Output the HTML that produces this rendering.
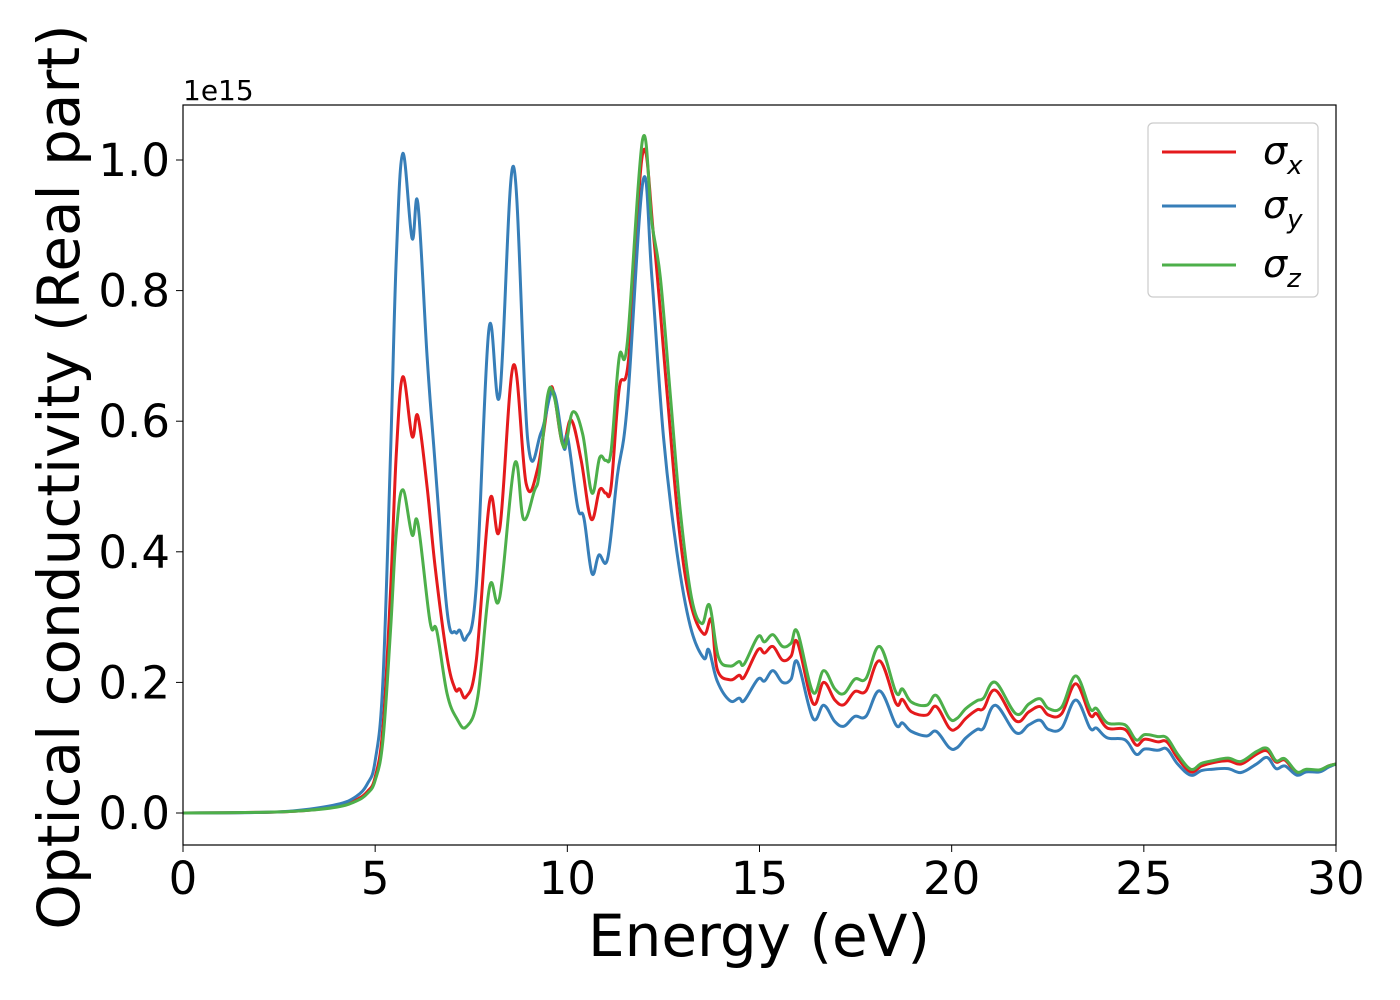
<!DOCTYPE html>
<html><head><meta charset="utf-8"><style>
html,body{margin:0;padding:0;background:#fff;}
svg{display:block;font-family:"DejaVu Sans","Liberation Sans",sans-serif;}
</style></head><body>
<svg id="chart" width="1400" height="1000" viewBox="0 0 1400 1000" xmlns="http://www.w3.org/2000/svg">
<rect width="1400" height="1000" fill="#fff"/>
<g id="xticks"></g>
<g id="yticks"></g>
<g id="series"></g>
<rect x="183" y="105" width="1153" height="740" fill="none" stroke="#000" stroke-width="1.2"/>
<text x="183" y="100" font-size="28">1e15</text>
<text x="759" y="956" font-size="58" text-anchor="middle">Energy (eV)</text>
<text transform="translate(79,477) rotate(-90)" font-size="58" text-anchor="middle">Optical conductivity (Real part)</text>
<g>
<rect x="1148" y="123" width="170" height="174" rx="5" fill="#fff" stroke="#ccc" stroke-width="1.2"/>
<line x1="1162" y1="152" x2="1236" y2="152" stroke="#e41a1c" stroke-width="3"/>
<text x="1263" y="164" font-size="38" font-style="italic">σ<tspan font-size="26" dy="10">x</tspan></text>
<line x1="1162" y1="206" x2="1236" y2="206" stroke="#377eb8" stroke-width="3"/>
<text x="1263" y="218" font-size="38" font-style="italic">σ<tspan font-size="26" dy="10">y</tspan></text>
<line x1="1162" y1="265" x2="1236" y2="265" stroke="#4daf4a" stroke-width="3"/>
<text x="1263" y="277" font-size="38" font-style="italic">σ<tspan font-size="26" dy="10">z</tspan></text>
</g>
</svg>
<script>
const xTicks=[0,5,10,15,20,25,30];
const yTicks=[0.0,0.2,0.4,0.6,0.8,1.0];
const yTickLabels=["0.0","0.2","0.4","0.6","0.8","1.0"];
const tailE=[14.23,14.47,14.6,14.96,15.13,15.35,15.6,15.82,15.99,16.39,16.67,16.96,17.2,17.48,17.77,18.13,18.55,18.72,18.95,19.35,19.6,19.94,20.14,20.37,20.66,20.83,21.14,21.67,22.01,22.3,22.52,22.86,23.23,23.6,23.77,24.05,24.51,24.8,25.02,25.36,25.6,25.88,26.22,26.5,26.79,27.19,27.53,27.93,28.21,28.44,28.67,28.98,29.23,29.57,29.8,30];
const redHeadE=[0,2,3,4,4.5,4.8,5.0,5.2,5.4,5.55,5.72,5.96,6.11,6.35,6.56,6.87,7.08,7.2,7.37,7.63,7.98,8.24,8.6,8.93,9.23,9.53,9.66,9.88,10.1,10.36,10.62,10.84,11.0,11.14,11.35,11.6,11.96,12.25,12.6,12.9,13.2,13.55,13.75,13.9];
const redHeadV=[0,0.001,0.003,0.01,0.02,0.033,0.055,0.13,0.34,0.55,0.668,0.577,0.608,0.5,0.377,0.239,0.19,0.19,0.178,0.233,0.478,0.435,0.686,0.504,0.528,0.64,0.64,0.565,0.602,0.54,0.45,0.495,0.49,0.5,0.65,0.698,1.01,0.88,0.64,0.44,0.323,0.274,0.296,0.22];
const redTail=[0.204,0.211,0.208,0.25,0.245,0.255,0.234,0.24,0.261,0.168,0.2,0.173,0.166,0.186,0.187,0.233,0.168,0.174,0.155,0.15,0.163,0.13,0.13,0.145,0.158,0.16,0.188,0.141,0.155,0.163,0.15,0.152,0.198,0.15,0.152,0.13,0.128,0.104,0.113,0.109,0.109,0.084,0.063,0.072,0.077,0.08,0.075,0.09,0.095,0.078,0.081,0.061,0.066,0.065,0.072,0.075];
const blueHeadE=[0,2,3,4,4.5,4.8,5.0,5.2,5.4,5.55,5.72,5.96,6.11,6.35,6.52,6.87,7.08,7.2,7.37,7.63,7.96,8.24,8.6,8.97,9.32,9.63,9.91,10.01,10.27,10.43,10.64,10.82,11.05,11.3,11.56,11.97,12.2,12.5,12.85,13.2,13.55,13.68,13.9];
const blueHeadV=[0,0.001,0.004,0.013,0.025,0.045,0.08,0.2,0.55,0.85,1.01,0.88,0.934,0.7,0.565,0.31,0.277,0.28,0.268,0.347,0.741,0.64,0.99,0.571,0.583,0.646,0.559,0.575,0.468,0.452,0.367,0.395,0.39,0.516,0.625,0.968,0.82,0.577,0.4,0.286,0.237,0.25,0.202];
const blueTail=[0.172,0.176,0.172,0.205,0.202,0.218,0.2,0.205,0.231,0.145,0.165,0.14,0.133,0.148,0.148,0.187,0.135,0.138,0.125,0.118,0.125,0.1,0.1,0.115,0.128,0.13,0.165,0.123,0.135,0.142,0.128,0.13,0.173,0.13,0.13,0.115,0.112,0.09,0.098,0.096,0.098,0.075,0.058,0.065,0.067,0.068,0.062,0.075,0.085,0.068,0.072,0.058,0.063,0.063,0.07,0.075];
const greenHeadE=[0,2,3,4,4.5,4.8,5.0,5.2,5.4,5.55,5.72,5.96,6.11,6.43,6.6,6.87,7.13,7.37,7.67,7.98,8.24,8.63,8.86,9.14,9.27,9.49,9.66,9.91,10.14,10.4,10.64,10.84,11.0,11.14,11.35,11.56,11.96,12.2,12.42,12.68,12.94,13.23,13.5,13.7,13.93];
const greenHeadV=[0,0.001,0.003,0.009,0.018,0.03,0.05,0.11,0.28,0.43,0.495,0.426,0.444,0.292,0.28,0.183,0.144,0.132,0.178,0.347,0.33,0.535,0.45,0.493,0.52,0.64,0.637,0.56,0.614,0.58,0.49,0.544,0.54,0.555,0.698,0.72,1.032,0.904,0.82,0.64,0.462,0.33,0.29,0.318,0.239];
const greenTail=[0.225,0.232,0.228,0.27,0.262,0.273,0.255,0.26,0.277,0.185,0.218,0.19,0.183,0.205,0.206,0.255,0.185,0.19,0.17,0.165,0.18,0.145,0.145,0.16,0.172,0.176,0.2,0.152,0.167,0.175,0.16,0.162,0.21,0.16,0.16,0.138,0.135,0.112,0.12,0.117,0.115,0.09,0.067,0.076,0.08,0.084,0.079,0.094,0.099,0.08,0.083,0.063,0.067,0.066,0.072,0.075];

const NS="http://www.w3.org/2000/svg";
function xs(e){return 183+(e-0)*(1336-183)/30;}
function ys(v){return 813-v*653;}
const xg=document.getElementById('xticks'),yg=document.getElementById('yticks'),sg=document.getElementById('series');
xTicks.forEach(t=>{
  const l=document.createElementNS(NS,'line');
  l.setAttribute('x1',xs(t));l.setAttribute('x2',xs(t));l.setAttribute('y1',845);l.setAttribute('y2',852);l.setAttribute('stroke','#000');
  
  
  xg.appendChild(l);
  const tx=document.createElementNS(NS,'text');
  tx.setAttribute('x',xs(t));tx.setAttribute('y',894);tx.setAttribute('font-size','45');tx.setAttribute('text-anchor','middle');
  tx.textContent=String(t);
  
  
  xg.appendChild(tx);
});
yTicks.forEach((t,i)=>{
  const l=document.createElementNS(NS,'line');
  l.setAttribute('x1',176);l.setAttribute('x2',183);l.setAttribute('y1',ys(t));l.setAttribute('y2',ys(t));l.setAttribute('stroke','#000');
  
  
  yg.appendChild(l);
  const tx=document.createElementNS(NS,'text');
  tx.setAttribute('x',170);tx.setAttribute('y',ys(t)+16);tx.setAttribute('font-size','45');tx.setAttribute('text-anchor','end');
  tx.textContent=yTickLabels[i];
  
  
  yg.appendChild(tx);
});
function pathFrom(E,V){
  const p=E.map((e,i)=>[xs(e),ys(V[i])]);
  let d='M'+p[0][0].toFixed(2)+','+p[0][1].toFixed(2);
  for(let i=0;i<p.length-1;i++){
    const p0=p[Math.max(0,i-1)],p1=p[i],p2=p[i+1],p3=p[Math.min(p.length-1,i+2)];
    const t=0.18;
    const c1=[p1[0]+(p2[0]-p0[0])*t,p1[1]+(p2[1]-p0[1])*t];
    const c2=[p2[0]-(p3[0]-p1[0])*t,p2[1]-(p3[1]-p1[1])*t];
    d+='C'+c1[0].toFixed(2)+','+c1[1].toFixed(2)+' '+c2[0].toFixed(2)+','+c2[1].toFixed(2)+' '+p2[0].toFixed(2)+','+p2[1].toFixed(2);
  }
  return d;
}
function addSeries(headE,headV,tail,color,name){
  const E=headE.concat(tailE),V=headV.concat(tail);
  const path=document.createElementNS(NS,'path');
  path.setAttribute('d',pathFrom(E,V));
  path.setAttribute('fill','none');path.setAttribute('stroke',color);path.setAttribute('stroke-width','3');path.setAttribute('stroke-linejoin','round');
  
  
  sg.appendChild(path);
}
addSeries(redHeadE,redHeadV,redTail,'#e41a1c','sigma-x-line');
addSeries(blueHeadE,blueHeadV,blueTail,'#377eb8','sigma-y-line');
addSeries(greenHeadE,greenHeadV,greenTail,'#4daf4a','sigma-z-line');
</script>
</body></html>
